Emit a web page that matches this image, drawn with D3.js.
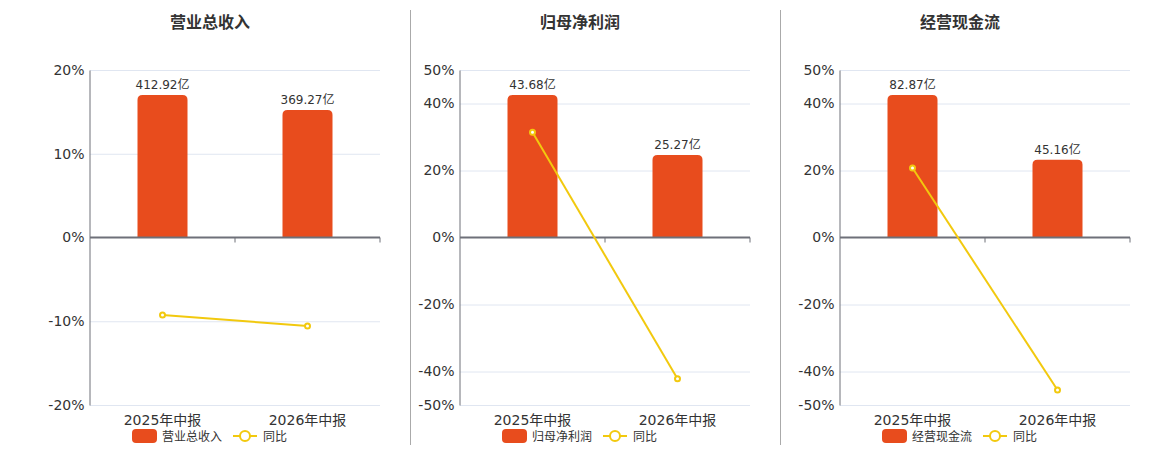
<!DOCTYPE html>
<html>
<head>
<meta charset="utf-8">
<script src="https://cdn.jsdelivr.net/npm/d3@7"></script>
<style>
  body { margin: 0; background: #fff; }
  svg { font-family: "DejaVu Sans", "Noto Sans CJK SC", sans-serif; }
</style>
</head>
<body>
<div id="chart"></div>
<script>
// data
const periods = ["2025年中报", "2026年中报"];
const titles = ["营业总收入", "归母净利润", "经营现金流"];
const amounts = [[412.92, 369.27], [43.68, 25.27], [82.87, 45.16]];
const yoy = [[-9.25, -10.57], [31.45, -42.15], [20.74, -45.5]];
const pctDomains = [[-20, 20], [-50, 50], [-50, 50]];
const pctTicks = [[-20, -10, 0, 10, 20], [-50, -40, -20, 0, 20, 40, 50], [-50, -40, -20, 0, 20, 40, 50]];

const W = 1160, H = 450;
const barColor = "#E84C1D", lineColor = "#F2C90E";
const plotLeft = [90, 460, 840];
const plotW = 290, plotTop = 70, plotBottom = 405;
const centers = [210, 580, 960];

const svg = d3.select("#chart").append("svg")
  .attr("width", W).attr("height", H);

// panel dividers
[410.5, 780.5].forEach(x => {
  svg.append("line").attr("x1", x).attr("x2", x).attr("y1", 10).attr("y2", 445)
    .attr("stroke", "#aaa").attr("stroke-width", 1);
});

// draw each panel
titles.forEach((title, i) => {
  const g = svg.append("g");
  const x0 = plotLeft[i];

  const x = d3.scaleBand().domain(periods).range([x0, x0 + plotW]);
  const y = d3.scaleLinear().domain(pctDomains[i]).range([plotBottom, plotTop]);
  const zeroY = y(0);

  // hidden value axis for the bars, zero lines up with 0%
  const maxAmt = d3.max(amounts[i]);
  const yBar = d3.scaleLinear().domain([0, maxAmt * 1.175]).range([zeroY, plotTop]);

  g.append("text")
    .attr("x", centers[i]).attr("y", 28)
    .attr("text-anchor", "middle")
    .attr("font-size", 16).attr("font-weight", "bold")
    .attr("fill", "#333")
    .text(title);

  // grid
  g.append("g").selectAll("line")
    .data(pctTicks[i].filter(t => t !== 0))
    .join("line")
    .attr("x1", x0).attr("x2", x0 + plotW)
    .attr("y1", d => y(d) + 0.5).attr("y2", d => y(d) + 0.5)
    .attr("stroke", "#E0E6F1");

  // y axis
  const yAxis = g.append("g")
    .attr("transform", `translate(${x0 - 0.5},0)`)
    .call(d3.axisLeft(y).tickValues(pctTicks[i]).tickSize(0).tickPadding(5).tickFormat(d => d + "%"));
  yAxis.select(".domain").attr("stroke", "#6E7079");
  yAxis.selectAll("text").attr("font-size", 14).attr("fill", "#333")
    .attr("font-family", "DejaVu Sans, Noto Sans CJK SC, sans-serif");

  // bars
  const r = 5, bw = 50;
  g.append("g").selectAll("path")
    .data(amounts[i])
    .join("path")
    .attr("fill", barColor)
    .attr("d", (d, j) => {
      const cx = x(periods[j]) + x.bandwidth() / 2;
      const xl = cx - bw / 2, xr = cx + bw / 2;
      const yt = yBar(d), yb = zeroY;
      return `M${xl},${yb}V${yt + r}Q${xl},${yt} ${xl + r},${yt}H${xr - r}Q${xr},${yt} ${xr},${yt + r}V${yb}Z`;
    });

  g.append("g").selectAll("text")
    .data(amounts[i])
    .join("text")
    .attr("x", (d, j) => x(periods[j]) + x.bandwidth() / 2)
    .attr("y", d => yBar(d) - 6)
    .attr("text-anchor", "middle")
    .attr("font-size", 12).attr("fill", "#333")
    .text(d => d.toFixed(2) + "亿");

  // x axis on zero line
  const xAxis = g.append("g")
    .attr("transform", `translate(0,${zeroY})`)
    .call(d3.axisBottom(x).tickSize(5).tickFormat(""));
  xAxis.select(".domain").attr("stroke", "#6E7079").attr("stroke-width", 2)
    .attr("d", `M${x0},0H${x0 + plotW}`);
  xAxis.selectAll(".tick").remove();
  xAxis.selectAll(".bt")
    .data([1, 2])
    .join("line")
    .attr("x1", k => x0 + x.step() * k).attr("x2", k => x0 + x.step() * k)
    .attr("y1", 0).attr("y2", 5)
    .attr("stroke", "#6E7079");

  // category labels at the bottom
  g.append("g").selectAll("text")
    .data(periods)
    .join("text")
    .attr("x", d => x(d) + x.bandwidth() / 2)
    .attr("y", 425)
    .attr("text-anchor", "middle")
    .attr("font-size", 14).attr("fill", "#333")
    .text(d => d);

  // yoy line
  const line = d3.line()
    .x((d, j) => x(periods[j]) + x.bandwidth() / 2)
    .y(d => y(d));
  g.append("path")
    .datum(yoy[i])
    .attr("fill", "none")
    .attr("stroke", lineColor)
    .attr("stroke-width", 2)
    .attr("d", line);
  g.append("g").selectAll("circle")
    .data(yoy[i])
    .join("circle")
    .attr("cx", (d, j) => x(periods[j]) + x.bandwidth() / 2)
    .attr("cy", d => y(d))
    .attr("r", 2.5)
    .attr("fill", "#fff")
    .attr("stroke", lineColor)
    .attr("stroke-width", 2);

  // legend
  const lx = centers[i] - 78;
  const lg = g.append("g").attr("transform", `translate(${lx},429)`);
  lg.append("rect").attr("width", 25).attr("height", 14).attr("rx", 4)
    .attr("fill", barColor);
  lg.append("text").attr("x", 30).attr("y", 12)
    .attr("font-size", 12).attr("fill", "#333").text(title);
  lg.append("line").attr("x1", 101).attr("x2", 125).attr("y1", 7).attr("y2", 7)
    .attr("stroke", lineColor).attr("stroke-width", 2);
  lg.append("circle").attr("cx", 113).attr("cy", 7).attr("r", 5)
    .attr("fill", "#fff").attr("stroke", lineColor).attr("stroke-width", 2);
  lg.append("text").attr("x", 131).attr("y", 12)
    .attr("font-size", 12).attr("fill", "#333").text("同比");
});
</script>
</body>
</html>
